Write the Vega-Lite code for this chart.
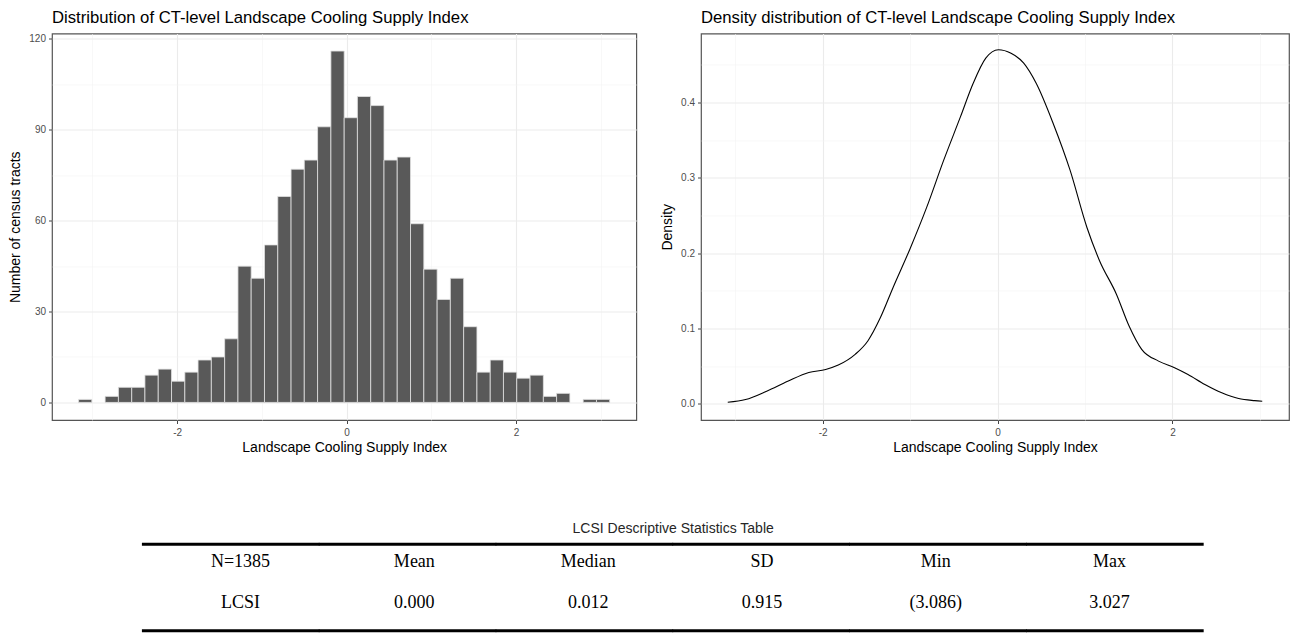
{
  "$schema": "https://vega.github.io/schema/vega-lite/v6.json",
  "background": "white",
  "padding": {"left": 8, "top": 8.5, "right": 0, "bottom": 0},
  "config": {
    "view": {"stroke": null},
    "font": "Liberation Sans",
    "axis": {
      "labelFont": "Liberation Sans", "labelFontSize": 10, "labelColor": "#4D4D4D",
      "titleFont": "Liberation Sans", "titleFontSize": 14, "titleFontWeight": "normal", "titleColor": "#000000",
      "tickColor": "#444444", "tickSize": 3.5, "tickWidth": 1, "domain": false,
      "gridColor": "#EBEBEB", "gridWidth": 1.1,
      "labelExpr": "replace(datum.label, '\u2212', '-')"
    },
    "title": {"font": "Liberation Sans", "fontSize": 16.7, "fontWeight": "normal", "color": "#000000", "anchor": "start", "frame": "group"}
  },
  "vconcat": [
    {
      "hconcat": [
        {
          "width": 584.3, "height": 386.5,
          "view": {"stroke": "#555555", "strokeWidth": 1.2},
          "title": {"text": "Distribution of CT-level Landscape Cooling Supply Index", "offset": 7},
          "data": {"values": [
            {"lo": -3.164, "hi": -3.008, "count": 1},
            {"lo": -2.851, "hi": -2.694, "count": 2},
            {"lo": -2.694, "hi": -2.537, "count": 5},
            {"lo": -2.537, "hi": -2.381, "count": 5},
            {"lo": -2.381, "hi": -2.224, "count": 9},
            {"lo": -2.224, "hi": -2.067, "count": 11},
            {"lo": -2.067, "hi": -1.910, "count": 7},
            {"lo": -1.910, "hi": -1.754, "count": 10},
            {"lo": -1.754, "hi": -1.597, "count": 14},
            {"lo": -1.597, "hi": -1.440, "count": 15},
            {"lo": -1.440, "hi": -1.283, "count": 21},
            {"lo": -1.283, "hi": -1.127, "count": 45},
            {"lo": -1.127, "hi": -0.970, "count": 41},
            {"lo": -0.970, "hi": -0.813, "count": 52},
            {"lo": -0.813, "hi": -0.656, "count": 68},
            {"lo": -0.656, "hi": -0.500, "count": 77},
            {"lo": -0.500, "hi": -0.343, "count": 80},
            {"lo": -0.343, "hi": -0.186, "count": 91},
            {"lo": -0.186, "hi": -0.029, "count": 116},
            {"lo": -0.029, "hi": 0.127, "count": 94},
            {"lo": 0.127, "hi": 0.284, "count": 101},
            {"lo": 0.284, "hi": 0.441, "count": 98},
            {"lo": 0.441, "hi": 0.597, "count": 80},
            {"lo": 0.597, "hi": 0.754, "count": 81},
            {"lo": 0.754, "hi": 0.911, "count": 59},
            {"lo": 0.911, "hi": 1.068, "count": 44},
            {"lo": 1.068, "hi": 1.224, "count": 34},
            {"lo": 1.224, "hi": 1.381, "count": 41},
            {"lo": 1.381, "hi": 1.538, "count": 25},
            {"lo": 1.538, "hi": 1.695, "count": 10},
            {"lo": 1.695, "hi": 1.851, "count": 14},
            {"lo": 1.851, "hi": 2.008, "count": 10},
            {"lo": 2.008, "hi": 2.165, "count": 8},
            {"lo": 2.165, "hi": 2.322, "count": 9},
            {"lo": 2.322, "hi": 2.478, "count": 2},
            {"lo": 2.478, "hi": 2.635, "count": 3},
            {"lo": 2.792, "hi": 2.949, "count": 1},
            {"lo": 2.949, "hi": 3.105, "count": 1}
          ]},
          "layer": [
            {
              "mark": {"type": "rect", "opacity": 0},
              "encoding": {
                "x": {"field": "lo", "type": "quantitative",
                      "scale": {"domain": [-3.478, 3.419], "nice": false, "zero": false},
                      "axis": {"orient": "bottom", "values": [-3, -1, 1, 3], "grid": true, "gridColor": "#F3F3F3", "gridWidth": 0.6, "labels": false, "ticks": false, "title": null}},
                "x2": {"field": "hi"},
                "y": {"field": "count", "type": "quantitative",
                      "scale": {"domain": [-5.8, 121.8], "nice": false, "zero": false},
                      "axis": {"orient": "left", "values": [15, 45, 75, 105], "grid": true, "gridColor": "#F3F3F3", "gridWidth": 0.6, "labels": false, "ticks": false, "title": null}},
                "y2": {"datum": 0}
              }
            },
            {
              "mark": {"type": "rect", "fill": "#595959", "stroke": "#E2E2E2", "strokeWidth": 0.8},
              "encoding": {
                "x": {"field": "lo", "type": "quantitative",
                      "scale": {"domain": [-3.478, 3.419], "nice": false, "zero": false},
                      "axis": {"orient": "bottom", "values": [-2, 0, 2], "grid": true, "title": "Landscape Cooling Supply Index", "labelPadding": 4, "titlePadding": 3}},
                "x2": {"field": "hi"},
                "y": {"field": "count", "type": "quantitative",
                      "scale": {"domain": [-5.8, 121.8], "nice": false, "zero": false},
                      "axis": {"orient": "left", "values": [0, 30, 60, 90, 120], "grid": true, "title": "Number of census tracts", "labelPadding": 3, "titlePadding": 6}},
                "y2": {"datum": 0}
              }
            }
          ],
          "resolve": {"axis": {"x": "independent", "y": "independent"}}
        },
        {
          "width": 588, "height": 386.5,
          "view": {"stroke": "#555555", "strokeWidth": 1.2},
          "title": {"text": "Density distribution of CT-level Landscape Cooling Supply Index", "offset": 7},
          "data": {"values": [
            {"x": -3.086, "density": 0.0022},
            {"x": -2.882, "density": 0.0058},
            {"x": -2.641, "density": 0.0169},
            {"x": -2.400, "density": 0.0300},
            {"x": -2.159, "density": 0.0417},
            {"x": -1.966, "density": 0.0457},
            {"x": -1.822, "density": 0.0515},
            {"x": -1.629, "density": 0.0657},
            {"x": -1.484, "density": 0.0835},
            {"x": -1.340, "density": 0.1145},
            {"x": -1.195, "density": 0.1545},
            {"x": -1.002, "density": 0.2056},
            {"x": -0.810, "density": 0.2610},
            {"x": -0.617, "density": 0.3230},
            {"x": -0.424, "density": 0.3810},
            {"x": -0.280, "density": 0.4250},
            {"x": -0.135, "density": 0.4586},
            {"x": 0.010, "density": 0.4697},
            {"x": 0.154, "density": 0.4650},
            {"x": 0.299, "density": 0.4520},
            {"x": 0.443, "density": 0.4250},
            {"x": 0.636, "density": 0.3720},
            {"x": 0.829, "density": 0.3100},
            {"x": 1.022, "density": 0.2340},
            {"x": 1.166, "density": 0.1900},
            {"x": 1.359, "density": 0.1456},
            {"x": 1.504, "density": 0.1034},
            {"x": 1.648, "density": 0.0724},
            {"x": 1.841, "density": 0.0568},
            {"x": 2.024, "density": 0.0480},
            {"x": 2.178, "density": 0.0390},
            {"x": 2.371, "density": 0.0257},
            {"x": 2.564, "density": 0.0147},
            {"x": 2.757, "density": 0.0071},
            {"x": 2.940, "density": 0.0044},
            {"x": 3.027, "density": 0.0036}
          ]},
          "layer": [
            {
              "mark": {"type": "line", "opacity": 0},
              "encoding": {
                "x": {"field": "x", "type": "quantitative",
                      "scale": {"domain": [-3.392, 3.333], "nice": false, "zero": false},
                      "axis": {"orient": "bottom", "values": [-3, -1, 1, 3], "grid": true, "gridColor": "#F3F3F3", "gridWidth": 0.6, "labels": false, "ticks": false, "title": null}},
                "y": {"field": "density", "type": "quantitative",
                      "scale": {"domain": [-0.0213, 0.4913], "nice": false, "zero": false},
                      "axis": {"orient": "left", "values": [0.05, 0.15, 0.25, 0.35, 0.45], "grid": true, "gridColor": "#F3F3F3", "gridWidth": 0.6, "labels": false, "ticks": false, "title": null}}
              }
            },
            {
              "mark": {"type": "line", "color": "#000000", "strokeWidth": 1.1, "interpolate": "monotone"},
              "encoding": {
                "x": {"field": "x", "type": "quantitative",
                      "scale": {"domain": [-3.392, 3.333], "nice": false, "zero": false},
                      "axis": {"orient": "bottom", "values": [-2, 0, 2], "grid": true, "title": "Landscape Cooling Supply Index", "labelPadding": 4, "titlePadding": 3}},
                "y": {"field": "density", "type": "quantitative",
                      "scale": {"domain": [-0.0213, 0.4913], "nice": false, "zero": false},
                      "axis": {"orient": "left", "values": [0, 0.1, 0.2, 0.3, 0.4], "format": ".1f", "grid": true, "title": "Density", "labelPadding": 3, "titlePadding": 6}}
              }
            }
          ],
          "resolve": {"axis": {"x": "independent", "y": "independent"}}
        }
      ],
      "spacing": 64,
      "bounds": "flush"
    },
    {
      "width": 1151.3, "height": 86.4,
      "title": {"text": "LCSI Descriptive Statistics Table", "anchor": "middle", "fontSize": 14, "color": "#262626", "offset": 7, "dx": 45.5},
      "layer": [
        {
          "data": {"values": [
            {"col": "N", "line": "top"}, {"col": "Mean", "line": "top"}, {"col": "Median", "line": "top"},
            {"col": "SD", "line": "top"}, {"col": "Min", "line": "top"}, {"col": "Max", "line": "top"},
            {"col": "N", "line": "bottom"}, {"col": "Mean", "line": "bottom"}, {"col": "Median", "line": "bottom"},
            {"col": "SD", "line": "bottom"}, {"col": "Min", "line": "bottom"}, {"col": "Max", "line": "bottom"}
          ]},
          "mark": {"type": "tick", "orient": "horizontal", "color": "#000000", "thickness": 3, "size": 177.6, "opacity": 1},
          "encoding": {
            "x": {"field": "col", "type": "ordinal",
                  "scale": {"type": "band", "domain": ["N", "Mean", "Median", "SD", "Min", "Max"], "paddingInner": 0, "paddingOuter": 0.2553, "align": 1},
                  "axis": null},
            "y": {"field": "line", "type": "ordinal", "scale": {"type": "point", "domain": ["top", "bottom"], "padding": 0}, "axis": null}
          }
        },
        {
          "data": {"values": [
            {"row": "header", "col": "N", "cell": "N=1385"},
            {"row": "header", "col": "Mean", "cell": "Mean"},
            {"row": "header", "col": "Median", "cell": "Median"},
            {"row": "header", "col": "SD", "cell": "SD"},
            {"row": "header", "col": "Min", "cell": "Min"},
            {"row": "header", "col": "Max", "cell": "Max"},
            {"row": "LCSI", "col": "N", "cell": "LCSI"},
            {"row": "LCSI", "col": "Mean", "cell": "0.000"},
            {"row": "LCSI", "col": "Median", "cell": "0.012"},
            {"row": "LCSI", "col": "SD", "cell": "0.915"},
            {"row": "LCSI", "col": "Min", "cell": "(3.086)"},
            {"row": "LCSI", "col": "Max", "cell": "3.027"}
          ]},
          "mark": {"type": "text", "font": "Liberation Serif", "fontSize": 18, "color": "#000000", "baseline": "middle"},
          "encoding": {
            "x": {"field": "col", "type": "ordinal", "scale": {"type": "point", "domain": ["N", "Mean", "Median", "SD", "Min", "Max"], "padding": 0.812, "align": 0.668}, "axis": null},
            "y": {"field": "row", "type": "ordinal", "scale": {"type": "point", "domain": ["header", "LCSI"], "padding": 0.538, "align": 0.388}, "axis": null},
            "text": {"field": "cell"}
          }
        }
      ],
      "resolve": {"scale": {"x": "independent", "y": "independent"}}
    }
  ],
  "spacing": 510.8,
  "bounds": "flush"
}
